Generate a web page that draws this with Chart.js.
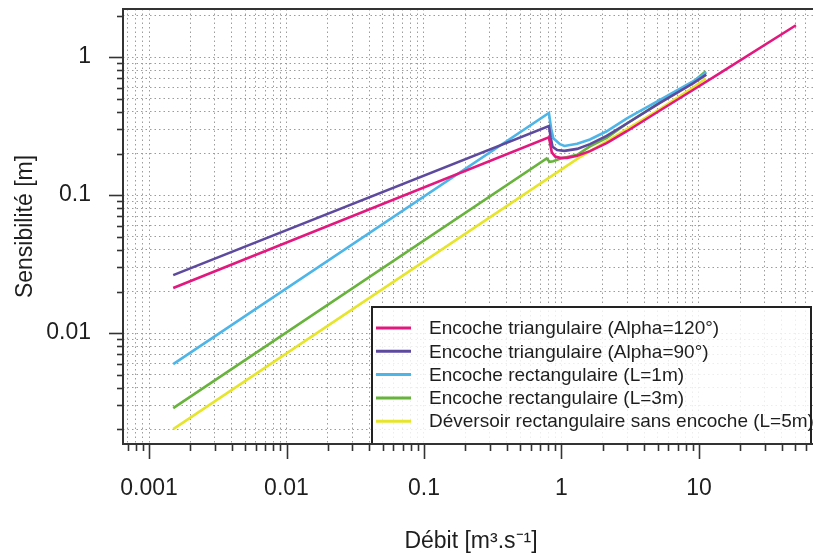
<!DOCTYPE html>
<html>
<head>
<meta charset="utf-8">
<title>Sensibilité</title>
<script src="https://cdn.jsdelivr.net/npm/chart.js@4.4.1/dist/chart.umd.min.js"></script>
<style>
html, body { margin: 0; padding: 0; background: #fff; overflow: hidden; }
#wrap { width: 813px; height: 555px; overflow: hidden; }
canvas { display: block; }
</style>
</head>
<body>
<div id="wrap"><canvas id="chart" width="830" height="555"></canvas></div>
<script>
// tick labels (decades only are labelled)
const xTickValues = [0.001, 0.01, 0.1, 1, 10];
const xTickLabels = ['0.001', '0.01', '0.1', '1', '10'];
const yTickValues = [0.01, 0.1, 1];
const yTickLabels = ['0.01', '0.1', '1'];
const minorSteps = [1, 2, 3, 4, 5, 6, 7, 8, 9];

const seriesNames = [
    'Encoche triangulaire (Alpha=120°)',
    'Encoche triangulaire (Alpha=90°)',
    'Encoche rectangulaire (L=1m)',
    'Encoche rectangulaire (L=3m)',
    'Déversoir rectangulaire sans encoche (L=5m)'
];
const seriesColors = ['#e2187e', '#5d4a9f', '#4db5e8', '#67b33b', '#e6e52c'];

// débit Q [m3/s] et sensibilité h [m]
const qTri120 = [0.0015, 0.81, 0.834, 0.85, 0.9, 0.975, 1.1, 1.3, 1.61, 2.13, 2.99, 5.2, 9.04, 14.2, 50.7];
const hTri120 = [0.0212, 0.262, 0.225, 0.204, 0.19, 0.186, 0.186, 0.193, 0.208, 0.238, 0.29, 0.41, 0.577, 0.764, 1.7];

const qTri90 = [0.0015, 0.81, 0.835, 0.861, 0.93, 1.05, 1.3, 1.61, 2.13, 2.99, 5.2, 9.04, 11.3];
const hTri90 = [0.0263, 0.316, 0.26, 0.224, 0.212, 0.209, 0.216, 0.234, 0.268, 0.33, 0.465, 0.645, 0.745];

const qRect1 = [0.0015, 0.81, 0.84, 0.872, 0.975, 1.05, 1.3, 1.61, 2.13, 2.99, 5.2, 9.04, 11.3];
const hRect1 = [0.00596, 0.393, 0.305, 0.258, 0.234, 0.227, 0.235, 0.253, 0.29, 0.36, 0.49, 0.665, 0.775];

const qRect3 = [0.0015, 0.78, 0.82, 0.87, 0.975, 1.3, 1.61, 2.13, 2.99, 5.2, 9.04, 11.2];
const hRect3 = [0.00286, 0.184, 0.174, 0.176, 0.183, 0.196, 0.225, 0.26, 0.33, 0.47, 0.66, 0.79];

const qWeir5 = [0.0015, 1.36, 2.13, 2.99, 5.2, 9.04, 11.2];
const hWeir5 = [0.00201, 0.188, 0.245, 0.30, 0.42, 0.60, 0.70];

const xMin = 0.000647, xMax = 74.6;
const yMin = 0.00157, yMax = 2.23;

function toPoints(q, h) {
    return q.map((v, i) => ({ x: v, y: h[i] }));
}

function logTicks(min, max) {
    const ticks = [];
    for (let e = Math.floor(Math.log10(min)); e <= Math.ceil(Math.log10(max)); e++) {
        minorSteps.forEach(s => {
            const v = s * Math.pow(10, e);
            if (v >= min && v <= max) ticks.push({ value: v, major: s === 1 });
        });
    }
    return ticks;
}

function labelFor(value, values, labels) {
    const i = values.findIndex(v => Math.abs(value / v - 1) < 1e-6);
    return i >= 0 ? labels[i] : '';
}

// no extra room for end labels, the plot frame is fixed
function noPadding(s) {
    s.paddingTop = 0;
    s.paddingBottom = 0;
    s.paddingLeft = 0;
    s.paddingRight = 0;
}

const allQ = [qTri120, qTri90, qRect1, qRect3, qWeir5];
const allH = [hTri120, hTri90, hRect1, hRect3, hWeir5];

const datasets = seriesNames.map((name, i) => ({
    label: name,
    data: toPoints(allQ[i], allH[i]),
    borderColor: seriesColors[i],
    backgroundColor: seriesColors[i],
    borderWidth: 2.6,
    pointRadius: 0,
    tension: 0,
    fill: false
}));

// frame + R-like outside tick marks
const framePlugin = {
    id: 'frame',
    afterDraw(chart) {
        const { ctx, chartArea, scales } = chart;
        ctx.save();
        ctx.strokeStyle = '#333';
        ctx.lineWidth = 1.6;
        scales.x.ticks.forEach(t => {
            const px = Math.round(scales.x.getPixelForValue(t.value)) + 0.5;
            ctx.beginPath();
            ctx.moveTo(px, chartArea.bottom);
            ctx.lineTo(px, chartArea.bottom + (t.major ? 15 : 7));
            ctx.stroke();
        });
        scales.y.ticks.forEach(t => {
            const py = Math.round(scales.y.getPixelForValue(t.value)) + 0.5;
            ctx.beginPath();
            ctx.moveTo(chartArea.left, py);
            ctx.lineTo(chartArea.left - (t.major ? 14 : 6), py);
            ctx.stroke();
        });
        ctx.lineWidth = 2;
        ctx.strokeRect(chartArea.left, chartArea.top, chartArea.right - chartArea.left, chartArea.bottom - chartArea.top);
        ctx.restore();
    }
};

const legendPlugin = {
    id: 'boxLegend',
    afterDatasetsDraw(chart) {
        const { ctx, chartArea } = chart;
        const left = 372, top = 307, right = 811, bottom = chartArea.bottom;
        ctx.save();
        ctx.fillStyle = 'rgba(255,255,255,0.82)';
        ctx.fillRect(left, top, right - left, bottom - top);
        ctx.strokeStyle = '#222';
        ctx.lineWidth = 2;
        ctx.strokeRect(left, top, right - left, bottom - top);
        ctx.font = '19px "Liberation Sans", Arial, sans-serif';
        ctx.textBaseline = 'middle';
        ctx.fillStyle = '#1e1e1e';
        chart.data.datasets.forEach((ds, i) => {
            const y = 328 + i * 23.3;
            ctx.strokeStyle = ds.borderColor;
            ctx.lineWidth = 3;
            ctx.beginPath();
            ctx.moveTo(376, y);
            ctx.lineTo(411, y);
            ctx.stroke();
            ctx.fillText(ds.label, 429, y + 1);
        });
        ctx.restore();
    }
};

Chart.defaults.font.family = '"Liberation Sans", Arial, sans-serif';
Chart.defaults.color = '#1e1e1e';

new Chart(document.getElementById('chart'), {
    type: 'line',
    data: { datasets },
    plugins: [legendPlugin, framePlugin],
    options: {
        responsive: false,
        animation: false,
        devicePixelRatio: 1,
        layout: { padding: { top: 9, right: 11, left: 0, bottom: 0 } },
        plugins: { legend: { display: false }, tooltip: { enabled: false } },
        scales: {
            x: {
                type: 'logarithmic',
                min: xMin,
                max: xMax,
                bounds: 'data',
                afterBuildTicks: s => { s.ticks = logTicks(s.min, s.max); },
                afterFit: s => { s.height = 111; noPadding(s); },
                grid: { color: '#9c9c9c', lineWidth: 1, drawTicks: false },
                border: { display: false, dash: [1.5, 3] },
                ticks: {
                    autoSkip: false,
                    maxRotation: 0,
                    padding: 31,
                    font: { size: 23 },
                    callback: v => labelFor(v, xTickValues, xTickLabels)
                },
                title: {
                    display: true,
                    text: 'Débit [m³.s⁻¹]',
                    font: { size: 23 },
                    padding: { top: 0, bottom: 0 }
                }
            },
            y: {
                type: 'logarithmic',
                min: yMin,
                max: yMax,
                bounds: 'data',
                afterBuildTicks: s => { s.ticks = logTicks(s.min, s.max); },
                afterFit: s => { s.width = 123; noPadding(s); },
                grid: { color: '#9c9c9c', lineWidth: 1, drawTicks: false },
                border: { display: false, dash: [1.5, 3] },
                ticks: {
                    autoSkip: false,
                    padding: 32,
                    font: { size: 23 },
                    callback: v => labelFor(v, yTickValues, yTickLabels)
                },
                title: {
                    display: true,
                    text: 'Sensibilité [m]',
                    font: { size: 23 },
                    padding: { top: 12, bottom: 0 }
                }
            }
        }
    }
});
</script>
</body>
</html>
